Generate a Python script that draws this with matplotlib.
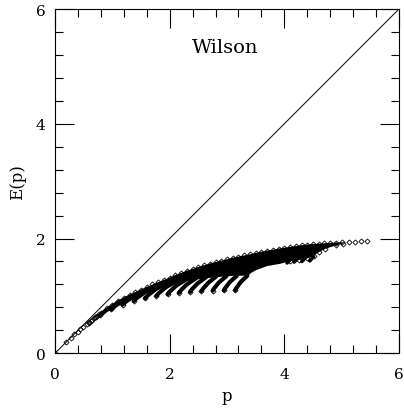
import numpy as np
import matplotlib
matplotlib.use('Agg')
import matplotlib.pyplot as plt
from matplotlib.ticker import MultipleLocator

plt.rcParams['font.family'] = ['DejaVu Serif', 'DejaVu Sans']

# points near the origin (single line of diamonds)
diag_x = [0.0, 0.196, 0.278, 0.340, 0.393, 0.439, 0.481, 0.555, 0.589, 0.589, 0.621, 0.651, 0.680, 0.708, 0.735, 0.760]
diag_y = [0.0, 0.194, 0.273, 0.332, 0.374, 0.418, 0.456, 0.518, 0.531, 0.548, 0.560, 0.587, 0.622, 0.633, 0.656, 0.677]

# upper edge of the dense cloud
env_x = [0.7, 0.8, 0.9, 1.0, 1.1, 1.2, 1.3, 1.4, 1.5, 1.6, 1.7, 1.8, 1.9, 2.0, 2.1, 2.2,
         2.3, 2.4, 2.5, 2.6, 2.7, 2.8, 2.9, 3.0, 3.1, 3.2, 3.3, 3.4, 3.5, 3.6, 3.7, 3.8,
         3.9, 4.0, 4.1, 4.2, 4.3, 4.4, 4.5, 4.6, 4.7, 4.8, 4.9, 5.0]
env_y = [0.64, 0.71, 0.79, 0.85, 0.91, 0.965, 1.02, 1.065, 1.11, 1.155, 1.20, 1.24, 1.28, 1.32, 1.365, 1.40,
         1.44, 1.47, 1.505, 1.535, 1.565, 1.59, 1.615, 1.64, 1.665, 1.685, 1.705, 1.725, 1.75, 1.77, 1.79, 1.805,
         1.825, 1.84, 1.855, 1.87, 1.885, 1.895, 1.905, 1.91, 1.918, 1.925, 1.93, 1.935]

# lower edge of the solid part of the cloud
low_x = [0.70, 0.90, 1.10, 1.30, 1.50, 1.70, 1.90, 2.10, 2.30, 2.50, 2.70, 2.90, 3.10, 3.36,
         3.43, 3.51, 3.70, 3.93, 4.10, 4.25, 4.40, 4.51, 4.60, 4.71, 4.90, 5.02]
low_y = [0.625, 0.745, 0.85, 0.94, 1.03, 1.10, 1.16, 1.21, 1.26, 1.29, 1.315, 1.335, 1.35, 1.354,
         1.405, 1.45, 1.52, 1.56, 1.605, 1.625, 1.655, 1.70, 1.76, 1.82, 1.88, 1.91]

# streaks hanging below the cloud (4 points each, bottom to top)
tail_x = [[0.785, 0.878, 1.110, 1.416],
          [0.982, 1.057, 1.257, 1.534],
          [1.178, 1.242, 1.416, 1.666],
          [1.374, 1.429, 1.582, 1.810],
          [1.571, 1.619, 1.756, 1.963],
          [1.767, 1.810, 1.933, 2.124],
          [1.963, 2.002, 2.114, 2.289],
          [2.160, 2.195, 2.298, 2.460],
          [2.356, 2.388, 2.483, 2.634],
          [2.553, 2.583, 2.671, 2.812],
          [2.749, 2.777, 2.859, 2.991],
          [2.945, 2.971, 3.048, 3.172],
          [3.142, 3.166, 3.238, 3.355]]
tail_y = [[0.661, 0.739, 0.890, 1.024],
          [0.766, 0.830, 0.962, 1.085],
          [0.848, 0.904, 1.024, 1.140],
          [0.912, 0.963, 1.075, 1.188],
          [0.962, 1.010, 1.117, 1.230],
          [1.001, 1.047, 1.151, 1.261],
          [1.031, 1.075, 1.178, 1.288],
          [1.054, 1.097, 1.199, 1.310],
          [1.071, 1.114, 1.215, 1.326],
          [1.084, 1.126, 1.227, 1.339],
          [1.092, 1.134, 1.235, 1.347],
          [1.097, 1.139, 1.240, 1.352],
          [1.099, 1.141, 1.241, 1.354]]

# short streaks on the lower right edge
short_x = [[4.048, 4.068, 4.118], [4.170, 4.190, 4.240], [4.305, 4.325, 4.375], [4.443, 4.460, 4.510]]
short_y = [[1.575, 1.595, 1.650], [1.590, 1.610, 1.665], [1.600, 1.620, 1.675], [1.610, 1.630, 1.685]]

# isolated points at the far end
end_x = [5.12, 5.225, 5.33, 5.44]
end_y = [1.935, 1.945, 1.95, 1.95]

ref_line = [0, 6]

fig = plt.figure(figsize=(4.04, 4.14), dpi=100)
ax = fig.add_axes([0.1361, 0.1442, 0.8515, 0.8316])

ax.plot(ref_line, ref_line, 'k-', lw=0.7)

ax.fill(env_x + low_x[::-1], env_y + low_y[::-1], color='k', lw=0)
for tx, ty in zip(tail_x, tail_y):
    ax.plot(tx, ty, 'k-', lw=3.0, solid_capstyle='round')
for tx, ty in zip(short_x, short_y):
    ax.plot(tx, ty, 'k-', lw=2.6, solid_capstyle='round')

mk = dict(ls='none', marker='D', ms=2.6, mfc='none', mec='k', mew=0.6)
ax.plot(diag_x, diag_y, **mk)
ax.plot(env_x, env_y, **mk)
ax.plot(low_x[-8:], low_y[-8:], **mk)
ax.plot([t[0] for t in tail_x], [t[0] for t in tail_y], **mk)
ax.plot(end_x, end_y, **mk)

ax.set_xlim(0, 6)
ax.set_ylim(0, 6)
ax.xaxis.set_major_locator(MultipleLocator(2))
ax.yaxis.set_major_locator(MultipleLocator(2))
ax.xaxis.set_minor_locator(MultipleLocator(0.4))
ax.yaxis.set_minor_locator(MultipleLocator(0.4))
ax.tick_params(which='both', direction='in', top=True, right=True, width=0.8, labelsize=11)
ax.tick_params(which='major', length=14)
ax.tick_params(which='minor', length=5.8)
ax.tick_params(axis='x', pad=10)
ax.tick_params(axis='y', pad=7)
for s in ax.spines.values():
    s.set_linewidth(0.8)

ax.set_xlabel('p', fontsize=12, labelpad=4)
ax.set_ylabel('E(p)', fontsize=12, labelpad=7)
ax.text(2.97, 5.34, 'Wilson', ha='center', va='center', fontsize=14)

fig.savefig('out.png', dpi=100)
